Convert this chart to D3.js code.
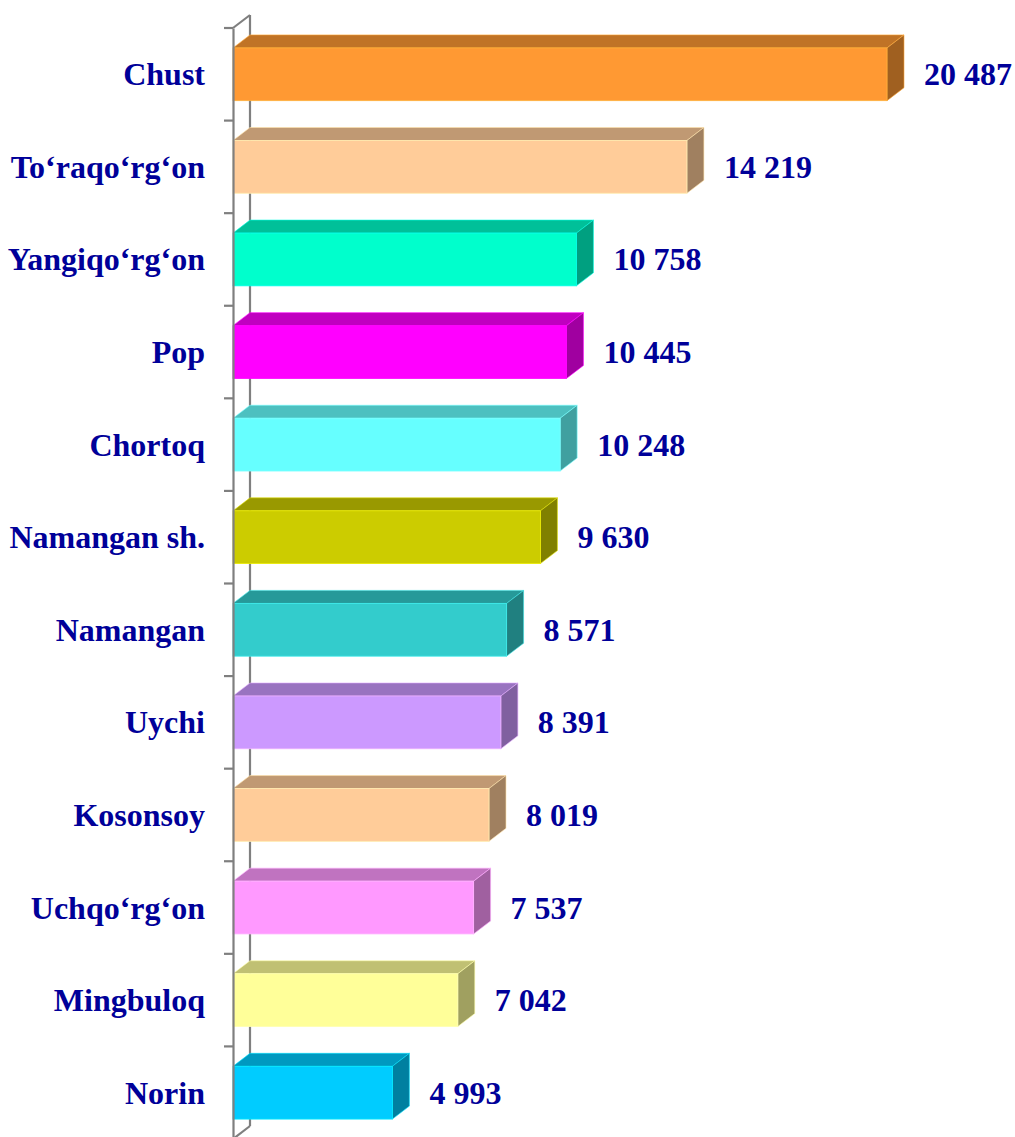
<!DOCTYPE html>
<html><head><meta charset="utf-8">
<script src="https://cdn.jsdelivr.net/npm/d3@7"></script>
<style>html,body{margin:0;padding:0;background:#fff;}</style>
</head><body>
<svg id="chart" width="1015" height="1137"></svg>
<script>
const categories = ["Chust","To‘raqo‘rg‘on","Yangiqo‘rg‘on","Pop","Chortoq","Namangan sh.","Namangan","Uychi","Kosonsoy","Uchqo‘rg‘on","Mingbuloq","Norin"];
const values = [20487,14219,10758,10445,10248,9630,8571,8391,8019,7537,7042,4993];
const barColors = ["#FF9933","#FFCC99","#00FFCC","#FF00FF","#66FFFF","#CCCC00","#33CCCC","#CC99FF","#FFCC99","#FF99FF","#FFFF99","#00CCFF"];

const svg = d3.select("#chart");
const x0 = 233, dx = 17, dy = 13;
const x = d3.scaleLinear().domain([0, 20487]).range([x0, 887]);
const y = d3.scaleBand().domain(categories).range([28, 1139]).padding(0);
const faceH = y.bandwidth() * 0.57;
const fmt = d3.formatLocale({decimal: ",", thousands: " ", grouping: [3], currency: ["", ""]}).format(",d");
const axisColor = "#7f7f7f";
const textColor = "#000099";
const font = "'Liberation Serif','Times New Roman',serif";
const fs = 32;

// back wall line & top/bottom slants
const [yTop, yBot] = y.range();
svg.append("line").attr("x1", x0 + dx).attr("x2", x0 + dx).attr("y1", yTop - dy).attr("y2", yBot - dy)
  .attr("stroke", axisColor).attr("stroke-width", 2.2);
svg.append("line").attr("x1", x0).attr("y1", yTop).attr("x2", x0 + dx).attr("y2", yTop - dy)
  .attr("stroke", axisColor).attr("stroke-width", 2.2);
svg.append("line").attr("x1", x0).attr("y1", yBot).attr("x2", x0 + dx).attr("y2", yBot - dy)
  .attr("stroke", axisColor).attr("stroke-width", 2.2);

// bars
const data = categories.map((c, i) => ({c, v: values[i], col: barColors[i]}));
const g = svg.append("g").selectAll("g").data(data).join("g");
g.each(function(d) {
  const sel = d3.select(this);
  const yc = y(d.c) + y.bandwidth() / 2;
  const t = yc - faceH / 2, b = yc + faceH / 2;
  const xe = x(d.v);
  const base = d3.color(d.col);
  sel.append("path")
    .attr("d", `M${x0},${t}L${x0 + dx},${t - dy}L${xe + dx},${t - dy}L${xe},${t}Z`)
    .attr("fill", base.darker(0.8)).attr("stroke", base.brighter(0.3)).attr("stroke-width", 0.6);
  sel.append("path")
    .attr("d", `M${xe},${t}L${xe + dx},${t - dy}L${xe + dx},${b - dy}L${xe},${b}Z`)
    .attr("fill", base.darker(1.3)).attr("stroke", base.brighter(0.3)).attr("stroke-width", 0.6);
  sel.append("rect").attr("x", x0).attr("y", t).attr("width", xe - x0).attr("height", faceH)
    .attr("fill", d.col).attr("stroke", base.brighter(0.4)).attr("stroke-width", 0.8);
  sel.append("text").attr("x", xe + 37).attr("y", yc + 11)
    .attr("font-family", font).attr("font-weight", "bold").attr("font-size", fs)
    .attr("fill", textColor).text(fmt(d.v));
});

// front axis line with ticks
const ax = svg.append("g").attr("transform", `translate(${x0},0)`)
  .call(d3.axisLeft(y).tickSize(0).tickPadding(28));
ax.select(".domain").attr("stroke", axisColor).attr("stroke-width", 2.2);
ax.selectAll(".tick text").attr("font-family", font).attr("font-weight", "bold")
  .attr("font-size", fs).attr("fill", textColor).attr("dy", null).attr("y", 11);
const bounds = d3.range(categories.length + 1).map(i => yTop + i * y.step());
svg.append("g").selectAll("line").data(bounds).join("line")
  .attr("x1", x0 - 9).attr("x2", x0).attr("y1", d => d).attr("y2", d => d)
  .attr("stroke", axisColor).attr("stroke-width", 2.2);
</script>
</body></html>
